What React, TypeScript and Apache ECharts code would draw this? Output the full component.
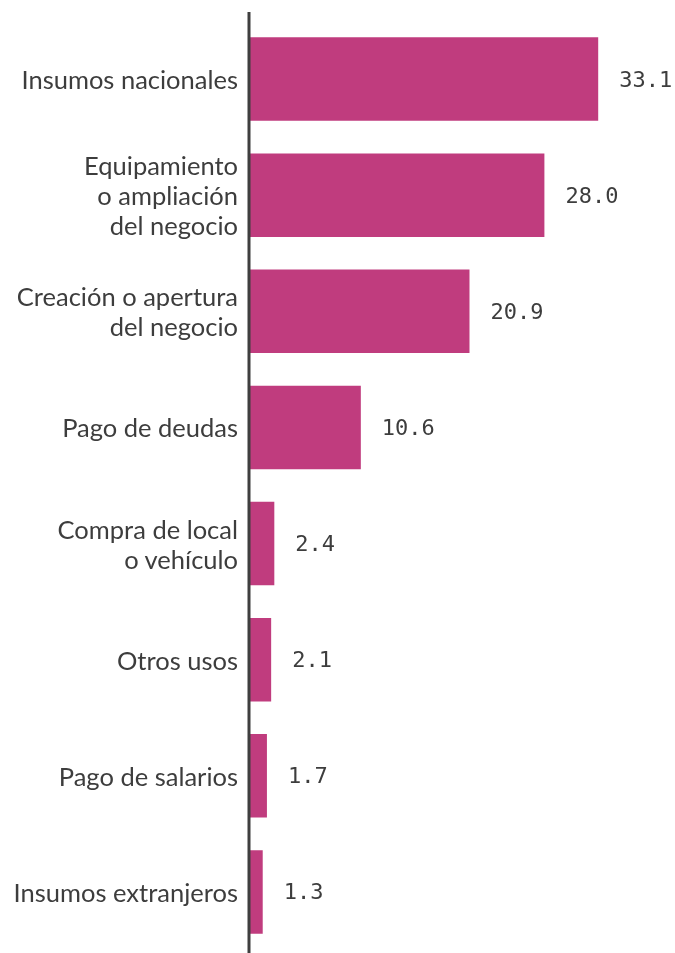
import React, { useEffect, useRef } from "react";
import * as echarts from "echarts";

const categories = [
  "Insumos nacionales",
  "Equipamiento\no ampliación\ndel negocio",
  "Creación o apertura\ndel negocio",
  "Pago de deudas",
  "Compra de local\no vehículo",
  "Otros usos",
  "Pago de salarios",
  "Insumos extranjeros",
];
const values = [33.1, 28.0, 20.9, 10.6, 2.4, 2.1, 1.7, 1.3];

export default function App() {
  const ref = useRef<HTMLDivElement>(null);
  useEffect(() => {
    if (!ref.current) return;
    const chart = echarts.init(ref.current, null, { renderer: "svg" });
    chart.setOption({
      animation: false,
      grid: { left: 249, right: 4, top: 21, height: 929, containLabel: false },
      xAxis: {
        type: "value",
        min: 0,
        max: 40,
        show: false,
      },
      yAxis: {
        type: "category",
        inverse: true,
        data: categories,
        axisLine: { show: false },
        axisTick: { show: false },
        splitLine: { show: false },
        axisLabel: {
          margin: 11,
          fontFamily: "Lato",
          fontSize: 25.5,
          lineHeight: 30,
          color: "#3d3d3d",
          align: "right",
        },
      },
      graphic: [
        {
          type: "line",
          shape: { x1: 249, y1: 12, x2: 249, y2: 953 },
          style: { stroke: "#3f3f3f", lineWidth: 3 },
          z: 10,
        },
      ],
      series: [
        {
          type: "bar",
          data: values,
          barCategoryGap: "28%",
          itemStyle: { color: "#C03C7E" },
          label: {
            show: true,
            position: "right",
            distance: 21,
            formatter: (p: any) => p.value.toFixed(1),
            fontFamily: "DejaVu Sans Mono",
            fontSize: 22,
            color: "#3d3d3d",
          },
        },
      ],
    });
    return () => chart.dispose();
  }, []);
  return (
    <div
      ref={ref}
      style={{ position: "fixed", left: 0, top: 0, width: 675, height: 953 }}
    />
  );
}
